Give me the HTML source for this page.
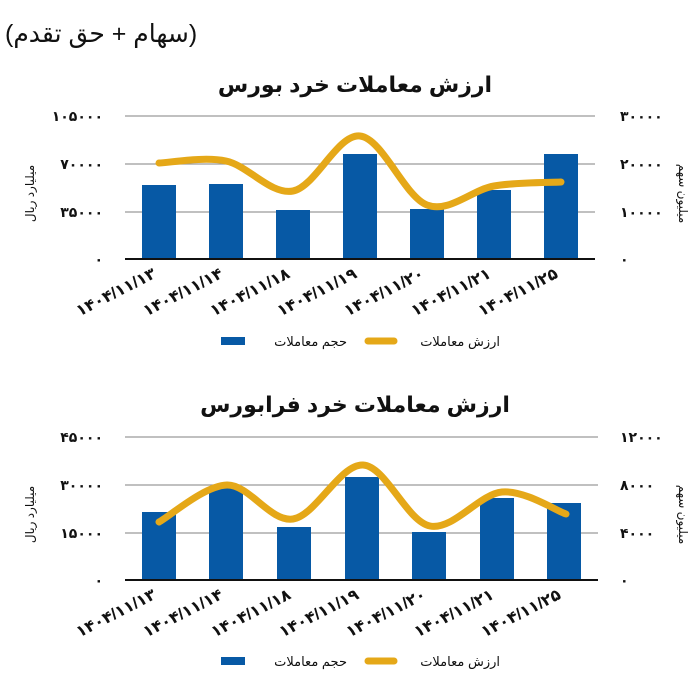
<!DOCTYPE html>
<html><head><meta charset="utf-8"><style>
body{margin:0;background:#fff;}
svg text{font-family:"Liberation Sans","DejaVu Sans","Noto Sans CJK SC",sans-serif;}
</style></head><body>
<svg id="s" width="700" height="684" viewBox="0 0 700 684" xmlns="http://www.w3.org/2000/svg">
<text x="5" y="42" font-size="25" fill="#111" direction="ltr">(سهام + حق تقدم)</text>
<text x="355" y="92" font-size="22" font-weight="bold" text-anchor="middle" fill="#111">ارزش معاملات خرد بورس</text>
<text x="355" y="412" font-size="22" font-weight="bold" text-anchor="middle" fill="#111">ارزش معاملات خرد فرابورس</text>
<g id="c1"></g><g id="c2"></g>
</svg>
<script>
var NS="http://www.w3.org/2000/svg";
function el(p,t,a,txt){var e=document.createElementNS(NS,t);for(var k in a)e.setAttribute(k,a[k]);if(txt)e.textContent=txt;p.appendChild(e);return e;}
var dates=["۱۴۰۴/۱۱/۱۳","۱۴۰۴/۱۱/۱۴","۱۴۰۴/۱۱/۱۸","۱۴۰۴/۱۱/۱۹","۱۴۰۴/۱۱/۲۰","۱۴۰۴/۱۱/۲۱","۱۴۰۴/۱۱/۲۵"];
function chart(g,grid,axisY,x1,bars,bw,line,lt,rt,legY){
  grid.forEach(function(y){el(g,"line",{x1:125,x2:x1,y1:y,y2:y,stroke:"#9a9a9a","stroke-width":1.3});});
  bars.forEach(function(b){el(g,"rect",{x:b[0],y:b[1],width:bw,height:axisY-b[1],fill:"#0759A5"});});
  el(g,"line",{x1:125,x2:x1,y1:axisY,y2:axisY,stroke:"#111","stroke-width":2});
  var d="M"+line[0][0]+","+line[0][1];
  for(var i=0;i<line.length-1;i++){var p0=line[i-1]||line[i],p1=line[i],p2=line[i+1],p3=line[i+2]||p2;
    d+=" C"+(p1[0]+(p2[0]-p0[0])/6)+","+(p1[1]+(p2[1]-p0[1])/6)+" "+(p2[0]-(p3[0]-p1[0])/6)+","+(p2[1]-(p3[1]-p1[1])/6)+" "+p2[0]+","+p2[1];}
  el(g,"path",{d:d,fill:"none",stroke:"#E5A818","stroke-width":7,"stroke-linecap":"round"});
  var all=grid.concat([axisY]);
  all.forEach(function(y,i){el(g,"text",{x:103,y:y+5,"font-size":14,"font-weight":"bold","text-anchor":"end",fill:"#111"},lt[i]);
    el(g,"text",{x:620,y:y+5,"font-size":14,"font-weight":"bold",fill:"#111"},rt[i]);});
  var my=(grid[0]+axisY)/2+6;
  el(g,"text",{transform:"translate(34,"+my+") rotate(-90)","font-size":12,"text-anchor":"middle",fill:"#111"},"میلیارد ریال");
  el(g,"text",{transform:"translate(679,"+my+") rotate(90)","font-size":12,"text-anchor":"middle",fill:"#111"},"میلیون سهم");
  bars.forEach(function(b,i){var cx=b[0]+bw/2-2;el(g,"text",{transform:"translate("+cx+","+(axisY+18)+") rotate(-27)","font-size":16,"font-weight":"bold","text-anchor":"end",direction:"ltr",fill:"#111"},dates[i]);});
  el(g,"rect",{x:221,y:legY-4,width:24,height:8,fill:"#0759A5"});
  el(g,"text",{x:347,y:legY+5,"font-size":13,"text-anchor":"end",fill:"#111"},"حجم معاملات");
  el(g,"line",{x1:368,x2:394,y1:legY,y2:legY,stroke:"#E5A818","stroke-width":7,"stroke-linecap":"round"});
  el(g,"text",{x:500,y:legY+5,"font-size":13,"text-anchor":"end",fill:"#111"},"ارزش معاملات");
}
chart(document.getElementById("c1"),[116,164,212],259,595,
 [[142,185],[209,184],[276,210],[343,154],[410,209],[477,190],[544,154]],34,
 [[159,163],[226,161],[293,191],[360,136],[427,205],[494,186],[561,182]],
 ["۱۰۵۰۰۰","۷۰۰۰۰","۳۵۰۰۰","۰"],["۳۰۰۰۰","۲۰۰۰۰","۱۰۰۰۰","۰"],341);
chart(document.getElementById("c2"),[437,485,533],580,598,
 [[142,512],[209,488],[277,527],[345,477],[412,532],[480,498],[547,503]],34,
 [[159,522],[227,485],[293,519],[363,465],[430,526],[502,492],[566,514]],
 ["۴۵۰۰۰","۳۰۰۰۰","۱۵۰۰۰","۰"],["۱۲۰۰۰","۸۰۰۰","۴۰۰۰","۰"],661);
</script>
</body></html>
